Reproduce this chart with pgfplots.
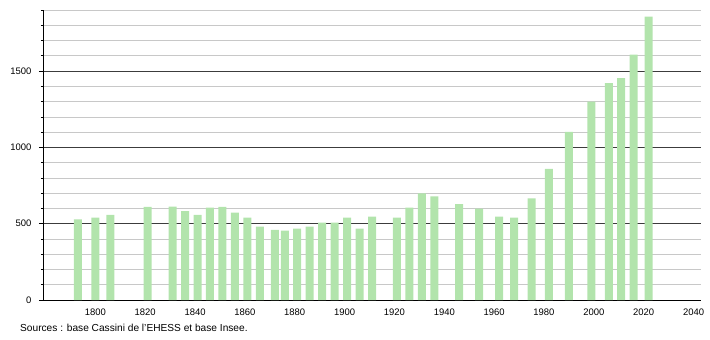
\documentclass[border=0pt]{standalone}
\usepackage{fontspec}
\setmainfont{Liberation Sans}
\usepackage{pgfplots}
\pgfplotsset{compat=1.18}
\definecolor{bargreen}{RGB}{178,228,172}
\definecolor{minorgrid}{RGB}{200,200,200}
\definecolor{majorgrid}{RGB}{60,60,60}
\begin{document}
\begin{tikzpicture}
\path[use as bounding box] (0,0) rectangle (710bp,340bp);
\begin{axis}[
  at={(43bp,40bp)}, anchor=south west,
  scale only axis, width=658bp, height=290bp,
  xmin=1779, xmax=2043, ymin=0, ymax=1900,
  axis x line*=bottom, axis y line*=left,
  axis line style={black, line width=0.8pt},
  xtick={1800,1820,...,2040},
  ytick={0,500,1000,1500},
  minor ytick={100,200,...,1900},
  ymajorgrids, yminorgrids,
  major grid style={majorgrid, line width=0.6pt},
  minor grid style={minorgrid, line width=0.6pt},
  x tick style={draw=none},
  y tick style={black, line width=0.6pt},
  major tick length=4bp, minor tick length=2bp,
  tick align=outside,
  ticklabel style={font=\fontsize{9.5}{11}\selectfont},
  /pgf/number format/assume math mode=true,
  /pgf/number format/set thousands separator={},
  xticklabel style={yshift=-1bp},
  yticklabel style={xshift=-4bp},
  ybar, bar width=8bp, bar shift=0pt,
  clip=false,
]
\addplot[fill=bargreen, draw=none] coordinates {
(1793,529) (1800,540) (1806,557) (1821,610) (1831,612) (1836,582) (1841,557)
(1846,606) (1851,610) (1856,573) (1861,540) (1866,480) (1872,460) (1876,454)
(1881,467) (1886,480) (1891,507) (1896,507) (1901,540) (1906,467) (1911,546)
(1921,540) (1926,606) (1931,698) (1936,679) (1946,628) (1954,599) (1962,546)
(1968,540) (1975,665) (1982,859) (1990,1101) (1999,1300) (2006,1421)
(2011,1454) (2016,1608) (2022,1857)
};
\end{axis}
\node[anchor=west, inner sep=0pt, font=\fontsize{10.2}{12}\selectfont] at (20bp,12bp) {Sources : base Cassini de l'EHESS et base Insee.};
\end{tikzpicture}
\end{document}
